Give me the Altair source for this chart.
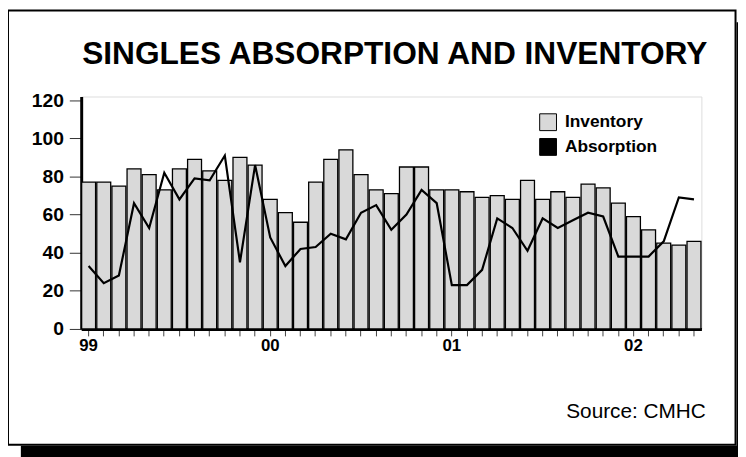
import altair as alt
import pandas as pd

months = [f"{y}-{m:02d}" for y in range(1999, 2003) for m in range(1, 13)][:41]

inventory = [77, 77, 75, 84, 81, 73, 84, 89, 83, 78, 90, 86,
             68, 61, 56, 77, 89, 94, 81, 73, 71, 85, 85, 73,
             73, 72, 69, 70, 68, 78, 68, 72, 69, 76, 74, 66,
             59, 52, 45, 44, 46]

absorption = [33, 24, 28, 66, 53, 82, 68, 79, 78, 91, 35, 86,
              48, 33, 42, 43, 50, 47, 61, 65, 52, 60, 73, 66,
              23, 23, 31, 58, 53, 41, 58, 53, 57, 61, 59, 38,
              38, 38, 46, 69, 68]

series_names = ["Inventory", "Absorption"]
y_ticks = [0, 20, 40, 60, 80, 100, 120]
title_text = "SINGLES ABSORPTION AND INVENTORY"
source_text = "Source: CMHC"

df = pd.DataFrame({
    "month": months,
    "inventory": inventory,
    "absorption": absorption,
    "series": ["Inventory"] * len(months),
})

FONT = "Liberation Sans"
W, H = 627, 235

x_axis = alt.Axis(
    title=source_text,
    titleAnchor="end",
    titleAlign="right",
    titleX=W + 4,
    titleFontSize=21,
    titleFontWeight="normal",
    titleFont=FONT,
    titleColor="black",
    titlePadding=48,
    labelExpr="substring(datum.value, 5, 7) == '01' ? substring(datum.value, 2, 4) : ''",
    labelAngle=0,
    labelFontSize=17,
    labelFontWeight="bold",
    labelFont=FONT,
    labelColor="black",
    labelPadding=2,
    labelOverlap=False,
    tickSize=7,
    tickColor="#444444",
    tickWidth=1,
    domainColor="black",
    domainWidth=3,
)
x_scale = alt.Scale(paddingInner=0.08, paddingOuter=0.03)

y_scale = alt.Scale(domain=[0, 122], nice=False)
y_axis = alt.Axis(
    values=y_ticks,
    tickCount=7,
    title=None,
    grid=False,
    labelOverlap=False,
    labelFontSize=19.5,
    labelFontWeight="bold",
    labelFont=FONT,
    labelColor="black",
    labelPadding=6,
    tickSize=12,
    tickColor="#333333",
    domainColor="black",
    domainWidth=3,
)

bars = alt.Chart(df).mark_bar(stroke="black", strokeWidth=1.3).encode(
    x=alt.X("month:O", sort=months, scale=x_scale, axis=x_axis),
    y=alt.Y("inventory:Q", scale=y_scale, axis=y_axis),
    color=alt.Color(
        "series:N",
        scale=alt.Scale(domain=series_names, range=["#d9d9d9", "#000000"]),
        legend=alt.Legend(
            orient="none",
            legendX=463,
            legendY=17,
            title=None,
            symbolType="square",
            symbolSize=289,
            symbolStrokeColor="black",
            symbolStrokeWidth=1,
            symbolOpacity=1,
            labelFontSize=17.5,
            labelFontWeight="bold",
            labelFont=FONT,
            labelColor="black",
            labelOffset=8,
            rowPadding=3,
            padding=0,
        ),
    ),
)

line = alt.Chart(df).mark_line(color="black", strokeWidth=2.2).encode(
    x=alt.X("month:O", sort=months, scale=x_scale, axis=x_axis),
    y=alt.Y("absorption:Q", scale=y_scale, axis=y_axis),
)

deco = pd.DataFrame({"t": [title_text]})
shadow_bottom = alt.Chart(deco).mark_rect(color="black").encode(
    x=alt.value(-61), x2=alt.value(690), y=alt.value(353), y2=alt.value(390)
)
shadow_right = alt.Chart(deco).mark_rect(color="black").encode(
    x=alt.value(662.5), x2=alt.value(690), y=alt.value(-75), y2=alt.value(390)
)
frame = alt.Chart(deco).mark_rect(filled=False, stroke="black", strokeWidth=2).encode(
    x=alt.value(-74), x2=alt.value(661.5), y=alt.value(-87), y2=alt.value(352)
)
title = alt.Chart(deco).mark_text(
    font=FONT, fontSize=32, fontWeight="bold", align="center",
    baseline="alphabetic", color="black",
).encode(text="t:N", x=alt.value(317), y=alt.value(-32.7))

chart = alt.layer(shadow_bottom, shadow_right, frame, title, bars, line).properties(
    width=W,
    height=H,
    padding={"left": 74, "top": 87, "right": 37, "bottom": 127},
    autosize=alt.AutoSizeParams(type="none"),
).configure_view(stroke="#888888", strokeWidth=1).configure(font=FONT, background="white")

chart.save("out.html", embed_options={"renderer": "svg", "actions": False})
